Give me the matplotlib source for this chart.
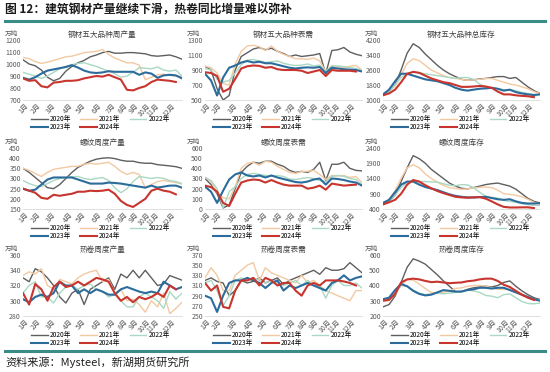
import matplotlib
matplotlib.use("Agg")
import matplotlib.pyplot as plt
from matplotlib.lines import Line2D

plt.rcParams['font.family'] = ['Noto Sans CJK SC', 'DejaVu Sans']

# x 轴：周序号（每两周取一个点）
weeks = list(range(0, 53, 2))
month_pos = [0.5, 4.5, 9.5, 15, 19.5, 24.5, 29, 33, 36.5, 40.5, 43.5, 48.5]
month_labels = ['1月', '2月', '3月', '4月', '5月', '6月', '7月', '8月', '9月', '10月', '11月', '12月']
years = ['2020年', '2021年', '2022年', '2023年', '2024年']

# 钢材五大品种周产量
prod5_2020 = [1035, 1000, 985, 950, 890, 860, 880, 940, 980, 1010, 1030, 1060, 1075, 1095,
              1105, 1090, 1090, 1095, 1095, 1090, 1085, 1070, 1065, 1070, 1075, 1060, 1040]
prod5_2021 = [1055, 1045, 1020, 1005, 1015, 1030, 1045, 1060, 1065, 1080, 1095, 1100, 1105, 1120,
              1080, 1050, 1030, 1010, 1010, 990, 870, 890, 910, 915, 905, 900, 895]
prod5_2022 = [930, 915, 900, 880, 900, 930, 960, 980, 995, 1005, 1010, 995, 980, 960,
              940, 920, 890, 900, 930, 970, 965, 960, 975, 950, 940, 950, 900]
prod5_2023 = [885, 870, 890, 920, 945, 955, 965, 975, 990, 970, 945, 930, 925, 930,
              940, 935, 935, 935, 935, 910, 930, 920, 885, 905, 910, 905, 880]
prod5_2024 = [880, 860, 865, 815, 805, 845, 850, 860, 860, 865, 880, 890, 900, 895,
              910, 890, 870, 785, 780, 800, 815, 850, 870, 865, 860, 850]

# 钢材五大品种表需
dem5_2020 = [950, 900, 650, 500, 560, 900, 1080, 1130, 1180, 1200, 1170, 1190, 1150, 1120,
             1080, 1100, 1080, 1090, 1100, 1120, 850, 1160, 1170, 1200, 1140, 1110, 1090]
dem5_2021 = [950, 930, 860, 720, 700, 980, 1150, 1220, 1230, 1210, 1160, 1220, 1150, 1110,
             1080, 1050, 1050, 1040, 1060, 1020, 880, 960, 940, 930, 950, 960, 900]
dem5_2022 = [920, 900, 780, 740, 760, 860, 970, 1030, 1040, 1020, 1000, 1010, 1020, 990,
             970, 960, 965, 980, 955, 965, 880, 950, 955, 945, 930, 920, 890]
dem5_2023 = [850, 760, 560, 800, 930, 960, 1000, 1020, 1000, 1010, 990, 990, 970, 950,
             930, 920, 930, 935, 930, 940, 860, 930, 920, 910, 905, 900, 880]
dem5_2024 = [870, 860, 820, 610, 650, 780, 920, 950, 960, 955, 930, 940, 910, 900,
             900, 900, 890, 860, 880, 900, 820, 900, 890, 890, 890, 880]

# 钢材五大品种总库存
inv5_2020 = [1300, 1450, 1800, 2600, 3500, 4000, 3800, 3450, 3150, 2850, 2600, 2400, 2250, 2100,
             2050, 2080, 2120, 2150, 2200, 2250, 2250, 2150, 2200, 1950, 1700, 1500, 1350]
inv5_2021 = [1300, 1450, 1750, 2350, 2950, 3200, 3100, 2850, 2600, 2450, 2300, 2200, 2150, 2100,
             2050, 2070, 2100, 2150, 2150, 2050, 1950, 1850, 1800, 1700, 1600, 1450, 1350]
inv5_2022 = [1300, 1450, 1800, 2200, 2400, 2500, 2450, 2400, 2350, 2300, 2250, 2200, 2150, 2200,
             2200, 2100, 1850, 1700, 1650, 1600, 1550, 1550, 1500, 1400, 1350, 1300, 1300]
inv5_2023 = [1300, 1550, 2000, 2400, 2400, 2300, 2200, 2100, 2050, 2000, 1900, 1800, 1650, 1550,
             1500, 1550, 1600, 1620, 1650, 1600, 1500, 1550, 1420, 1350, 1300, 1260, 1300]
inv5_2024 = [1250, 1350, 1550, 1950, 2400, 2500, 2450, 2300, 2150, 2050, 1950, 1900, 1800, 1700,
             1700, 1720, 1750, 1720, 1650, 1450, 1300, 1300, 1250, 1220, 1200, 1150]

# 螺纹周度产量
rprod_2020 = [350, 330, 305, 280, 255, 250, 270, 300, 330, 355, 370, 385, 395, 400,
              402, 398, 390, 385, 385, 378, 375, 375, 368, 365, 362, 358, 350]
rprod_2021 = [350, 340, 325, 310, 330, 345, 350, 355, 360, 360, 370, 375, 370, 375,
              380, 360, 335, 320, 330, 320, 255, 270, 285, 290, 285, 280, 272]
rprod_2022 = [290, 275, 265, 260, 275, 290, 300, 305, 308, 310, 300, 295, 300, 305,
              290, 255, 230, 250, 285, 310, 305, 300, 305, 300, 290, 285, 275]
rprod_2023 = [250, 240, 245, 270, 295, 305, 305, 305, 305, 295, 285, 275, 275, 275,
              280, 278, 275, 270, 265, 260, 255, 265, 255, 260, 265, 265, 255]
rprod_2024 = [250, 240, 230, 205, 200, 220, 215, 220, 225, 235, 235, 240, 238, 240,
              245, 225, 190, 170, 160, 180, 200, 240, 250, 240, 235, 222]

# 螺纹周度表需
rdem_2020 = [300, 240, 150, 10, 40, 200, 360, 420, 460, 450, 470, 470, 440, 420,
             380, 360, 370, 360, 390, 460, 280, 440, 440, 460, 400, 380, 375]
rdem_2021 = [310, 270, 160, 110, 100, 220, 400, 450, 460, 430, 470, 460, 420, 390,
             360, 350, 370, 370, 380, 340, 290, 330, 325, 330, 310, 320, 260]
rdem_2022 = [310, 280, 200, 10, 170, 220, 300, 340, 350, 340, 330, 320, 330, 320,
             295, 290, 300, 310, 300, 280, 270, 320, 330, 320, 300, 290, 240]
rdem_2023 = [220, 170, 60, 180, 290, 340, 360, 330, 320, 330, 310, 330, 310, 295,
             280, 265, 260, 270, 290, 300, 240, 300, 295, 285, 270, 260, 230]
rdem_2024 = [230, 215, 170, 60, 30, 150, 260, 280, 290, 285, 260, 285, 260, 240,
             230, 230, 230, 200, 210, 230, 190, 250, 240, 230, 235, 240]

# 螺纹周度库存
rinv_2020 = [600, 650, 850, 1300, 1750, 2150, 2050, 1900, 1700, 1550, 1400, 1250, 1150, 1080,
             1060, 1100, 1150, 1200, 1230, 1250, 1200, 1150, 1050, 900, 750, 650, 600]
rinv_2021 = [600, 700, 1000, 1400, 1750, 1850, 1750, 1550, 1400, 1280, 1180, 1100, 1070, 1050,
             1060, 1090, 1110, 1120, 1100, 1020, 900, 880, 850, 800, 720, 620, 560]
rinv_2022 = [550, 650, 850, 1100, 1280, 1300, 1300, 1300, 1290, 1280, 1230, 1180, 1160, 1200,
             1190, 1100, 950, 820, 780, 760, 680, 650, 620, 570, 540, 520, 520]
rinv_2023 = [600, 700, 950, 1200, 1300, 1300, 1200, 1120, 1070, 1020, 950, 880, 830, 800,
             780, 780, 790, 800, 760, 720, 700, 720, 650, 600, 580, 580, 590]
rinv_2024 = [550, 620, 700, 900, 1200, 1350, 1300, 1180, 1080, 990, 920, 860, 800, 780,
             770, 780, 790, 740, 650, 550, 470, 450, 450, 455, 455, 430]

# 热卷周度产量
hprod_2020 = [330, 325, 342, 338, 330, 320, 305, 297, 310, 315, 295, 315, 320, 325,
              330, 315, 335, 330, 340, 330, 340, 330, 320, 322, 333, 330, 327]
hprod_2021 = [333, 338, 335, 342, 320, 315, 328, 325, 322, 330, 335, 338, 340, 325,
              328, 310, 315, 300, 302, 295, 285, 300, 292, 310, 283, 290, 298]
hprod_2022 = [310, 320, 325, 305, 305, 297, 310, 318, 320, 315, 320, 322, 315, 312,
              305, 308, 300, 292, 292, 305, 310, 305, 300, 290, 312, 302, 310]
hprod_2023 = [302, 298, 305, 308, 305, 310, 325, 320, 320, 310, 315, 310, 315, 312,
              308, 308, 315, 318, 315, 312, 310, 312, 310, 325, 320, 315, 318]
hprod_2024 = [310, 295, 322, 315, 300, 318, 325, 318, 320, 325, 320, 325, 330, 328,
              325, 310, 300, 305, 298, 305, 302, 305, 310, 305, 320, 315]

# 热卷周度表需
hdem_2020 = [320, 325, 318, 315, 290, 300, 320, 315, 318, 325, 315, 320, 325, 312,
             320, 325, 330, 335, 340, 332, 345, 340, 340, 343, 355, 345, 335]
hdem_2021 = [325, 345, 330, 300, 300, 330, 340, 350, 355, 320, 345, 335, 330, 325,
             320, 315, 330, 315, 320, 310, 300, 295, 290, 285, 280, 300, 300]
hdem_2022 = [315, 320, 300, 270, 290, 320, 325, 320, 325, 320, 315, 320, 315, 310,
             315, 320, 310, 320, 310, 310, 285, 310, 320, 310, 310, 315, 305]
hdem_2023 = [290, 285, 258, 290, 315, 320, 320, 325, 320, 315, 305, 315, 320, 300,
             310, 305, 310, 315, 310, 305, 300, 315, 320, 330, 320, 325, 328]
hdem_2024 = [315, 300, 310, 268, 265, 300, 320, 320, 325, 310, 325, 320, 310, 315,
             315, 300, 290, 310, 315, 310, 320, 320, 320, 318, 315, 310]

# 热卷周度库存
hinv_2020 = [260, 275, 330, 420, 520, 575, 560, 540, 505, 470, 430, 395, 360, 360,
             375, 385, 390, 395, 390, 400, 420, 430, 395, 365, 340, 320, 308]
hinv_2021 = [300, 310, 340, 400, 440, 435, 410, 380, 355, 350, 355, 365, 380, 385,
             395, 400, 400, 395, 385, 375, 375, 375, 355, 335, 320, 310, 305]
hinv_2022 = [310, 315, 350, 400, 395, 370, 350, 340, 345, 350, 345, 350, 355, 365,
             370, 365, 355, 335, 330, 320, 340, 345, 320, 295, 282, 280, 285]
hinv_2023 = [310, 320, 370, 410, 395, 365, 345, 335, 340, 355, 370, 365, 360, 360,
             370, 375, 385, 385, 380, 385, 385, 370, 355, 340, 325, 310, 300]
hinv_2024 = [300, 305, 345, 420, 440, 445, 440, 430, 422, 425, 420, 415, 418, 420,
             428, 432, 440, 445, 445, 430, 405, 390, 365, 340, 320, 305]

colors = ['#5f5f5f', '#f2c9a1', '#a9d8c3', '#2b6c9c', '#c8352e']
widths = [1.0, 1.0, 1.0, 1.5, 1.5]

panels = [
    ('钢材五大品种周产量', [prod5_2020, prod5_2021, prod5_2022, prod5_2023, prod5_2024], (700, 1200), 100),
    ('钢材五大品种表需', [dem5_2020, dem5_2021, dem5_2022, dem5_2023, dem5_2024], (500, 1300), 200),
    ('钢材五大品种总库存', [inv5_2020, inv5_2021, inv5_2022, inv5_2023, inv5_2024], (1000, 4200), 800),
    ('螺纹周度产量', [rprod_2020, rprod_2021, rprod_2022, rprod_2023, rprod_2024], (150, 450), 50),
    ('螺纹周度表需', [rdem_2020, rdem_2021, rdem_2022, rdem_2023, rdem_2024], (0, 600), 100),
    ('螺纹周度库存', [rinv_2020, rinv_2021, rinv_2022, rinv_2023, rinv_2024], (400, 2400), 500),
    ('热卷周度产量', [hprod_2020, hprod_2021, hprod_2022, hprod_2023, hprod_2024], (280, 360), 20),
    ('热卷周度表需', [hdem_2020, hdem_2021, hdem_2022, hdem_2023, hdem_2024], (250, 370), 20),
    ('热卷周度库存', [hinv_2020, hinv_2021, hinv_2022, hinv_2023, hinv_2024], (200, 600), 100),
]

W, H = 550, 372
cols = [(23, 182), (205, 362), (383, 540)]
rows = [(40, 100), (148, 209), (255, 316)]

fig = plt.figure(figsize=(W / 100, H / 100), dpi=100)

# 标题和分隔条
fig.text(5 / W, 1 - 10 / H, '图 12：建筑钢材产量继续下滑，热卷同比增量难以弥补',
         fontsize=8.5, fontweight='bold', color='#1a1a1a', va='center', ha='left')
fig.add_artist(Line2D([5 / W, 545 / W], [1 - 20.5 / H, 1 - 20.5 / H], color='#3a8c86', lw=2.2))
fig.add_artist(Line2D([5 / W, 545 / W], [1 - 350.5 / H, 1 - 350.5 / H], color='#3a8c86', lw=2.2))
fig.text(5 / W, 1 - 362.5 / H, '资料来源：Mysteel，新湖期货研究所',
         fontsize=8, color='#222222', va='center', ha='left')

for i, (title, series, ylim, step) in enumerate(panels):
    l, r = cols[i % 3]
    t, b = rows[i // 3]
    ax = fig.add_axes([l / W, 1 - b / H, (r - l) / W, (b - t) / H])
    lines = []
    for k, ys in enumerate(series):
        ln, = ax.plot(weeks[:len(ys)], ys, color=colors[k], lw=widths[k], zorder=2 + k)
        lines.append(ln)
    ax.set_xlim(0, 52)
    ax.set_ylim(*ylim)
    ax.set_yticks(range(ylim[0], ylim[1] + 1, step))
    ax.set_xticks(month_pos)
    ax.set_xticklabels(month_labels, rotation=45, ha='right', rotation_mode='anchor')
    ax.tick_params(axis='both', length=0, labelsize=5, colors='#595959', pad=1.5)
    for s in ['top', 'right', 'left']:
        ax.spines[s].set_visible(False)
    ax.spines['bottom'].set_color('#d9d9d9')
    ax.spines['bottom'].set_linewidth(0.6)
    ax.set_title(title, fontsize=5.5, color='#404040', pad=2.5)
    fig.text((l - 18) / W, 1 - (t - 2) / H, '万吨', fontsize=4.8, color='#595959',
             va='bottom', ha='left')
    order = [0, 3, 1, 4, 2]
    fig.legend([lines[j] for j in order], [years[j] for j in order],
               loc='upper left', bbox_to_anchor=((l + 8) / W, 1 - (b + 15) / H),
               ncol=3, fontsize=4.8, frameon=False, handlelength=2.5, handletextpad=0.3,
               columnspacing=1.4, labelspacing=0.05, borderpad=0, borderaxespad=0)

fig.savefig('out.png', dpi=100)
